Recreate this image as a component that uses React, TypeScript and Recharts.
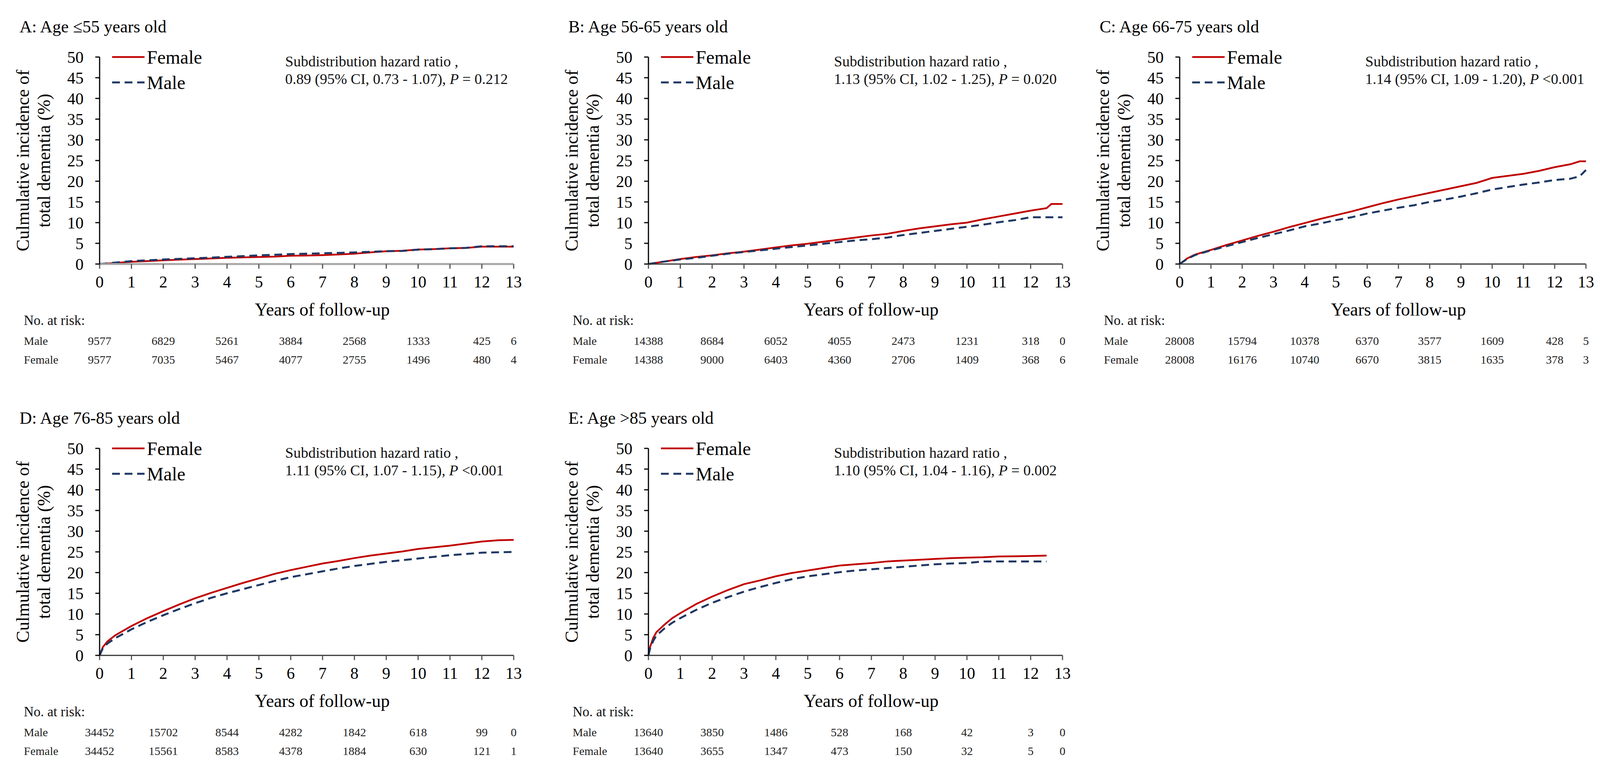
import { LineChart, Line, XAxis, YAxis } from 'recharts';

const YEARS = [0, 1, 2, 3, 4, 5, 6, 7, 8, 9, 10, 11, 12, 13];
const Y_TICKS = [0, 5, 10, 15, 20, 25, 30, 35, 40, 45, 50];
const RISK_YEARS = [0, 2, 4, 6, 8, 10, 12, 13];

// Panel A: age <=55
const aTime = [0, 0.5, 1, 1.5, 2, 2.5, 3, 3.5, 4, 4.5, 5, 5.5, 6, 6.5, 7, 7.5, 8, 8.5, 9, 9.5, 10, 10.5, 11, 11.5, 12, 12.5, 13];
const aFemale = [0, 0.25, 0.55, 0.7, 0.9, 1.05, 1.2, 1.35, 1.5, 1.6, 1.7, 1.8, 2.0, 2.05, 2.15, 2.3, 2.5, 2.8, 3.1, 3.2, 3.5, 3.6, 3.8, 3.9, 4.2, 4.2, 4.2];
const aMale = [0, 0.35, 0.7, 0.9, 1.1, 1.25, 1.4, 1.55, 1.75, 1.9, 2.1, 2.25, 2.4, 2.5, 2.6, 2.7, 2.8, 2.95, 3.1, 3.15, 3.5, 3.6, 3.8, 3.9, 4.3, 4.3, 4.3];
const aRiskMale = ['9577', '6829', '5261', '3884', '2568', '1333', '425', '6'];
const aRiskFemale = ['9577', '7035', '5467', '4077', '2755', '1496', '480', '4'];

// Panel B: age 56-65
const bTime = [0, 0.5, 1, 1.5, 2, 2.5, 3, 3.5, 4, 4.5, 5, 5.5, 6, 6.5, 7, 7.5, 8, 8.5, 9, 9.5, 10, 10.5, 11, 11.5, 12, 12.5, 12.65, 13];
const bFemale = [0, 0.6, 1.2, 1.7, 2.1, 2.6, 3.0, 3.5, 4.0, 4.5, 4.9, 5.4, 5.9, 6.4, 6.9, 7.3, 8.0, 8.6, 9.1, 9.6, 10.0, 10.8, 11.5, 12.2, 12.9, 13.5, 14.5, 14.5];
const bMale = [0, 0.6, 1.1, 1.5, 2.0, 2.5, 2.9, 3.3, 3.7, 4.1, 4.5, 4.9, 5.3, 5.7, 6.0, 6.4, 7.0, 7.5, 8.0, 8.5, 9.0, 9.5, 10.1, 10.6, 11.3, 11.3, 11.3, 11.3];
const bRiskMale = ['14388', '8684', '6052', '4055', '2473', '1231', '318', '0'];
const bRiskFemale = ['14388', '9000', '6403', '4360', '2706', '1409', '368', '6'];

// Panel C: age 66-75
const cTime = [0, 0.25, 0.5, 1, 1.5, 2, 2.5, 3, 3.5, 4, 4.5, 5, 5.5, 6, 6.5, 7, 7.5, 8, 8.5, 9, 9.5, 10, 10.5, 11, 11.5, 12, 12.5, 12.8, 13];
const cFemale = [0, 1.4, 2.3, 3.4, 4.6, 5.7, 6.8, 7.8, 8.9, 9.9, 10.9, 11.8, 12.7, 13.7, 14.7, 15.6, 16.4, 17.2, 18.0, 18.8, 19.6, 20.8, 21.3, 21.8, 22.5, 23.4, 24.1, 24.8, 24.8];
const cMale = [0, 1.3, 2.2, 3.3, 4.3, 5.3, 6.3, 7.2, 8.1, 9.1, 9.8, 10.6, 11.3, 12.2, 12.9, 13.6, 14.2, 15.0, 15.6, 16.3, 17.1, 18.0, 18.6, 19.2, 19.7, 20.3, 20.6, 21.2, 22.7];
const cRiskMale = ['28008', '15794', '10378', '6370', '3577', '1609', '428', '5'];
const cRiskFemale = ['28008', '16176', '10740', '6670', '3815', '1635', '378', '3'];

// Panel D: age 76-85
const dTime = [0, 0.1, 0.25, 0.5, 1, 1.5, 2, 2.5, 3, 3.5, 4, 4.5, 5, 5.5, 6, 6.5, 7, 7.5, 8, 8.5, 9, 9.5, 10, 10.5, 11, 11.5, 12, 12.5, 13];
const dFemale = [0, 2.0, 3.4, 4.9, 7.1, 9.0, 10.7, 12.3, 13.8, 15.1, 16.3, 17.5, 18.6, 19.7, 20.6, 21.4, 22.2, 22.8, 23.5, 24.1, 24.6, 25.1, 25.7, 26.1, 26.5, 27.0, 27.5, 27.8, 27.9];
const dMale = [0, 1.7, 2.9, 4.2, 6.3, 8.1, 9.7, 11.2, 12.6, 13.9, 15.0, 16.0, 17.0, 18.0, 18.9, 19.6, 20.3, 21.0, 21.6, 22.1, 22.6, 23.0, 23.4, 23.8, 24.2, 24.5, 24.8, 24.9, 25.0];
const dRiskMale = ['34452', '15702', '8544', '4282', '1842', '618', '99', '0'];
const dRiskFemale = ['34452', '15561', '8583', '4378', '1884', '630', '121', '1'];

// Panel E: age >85
const eTime = [0, 0.05, 0.15, 0.25, 0.5, 0.75, 1, 1.5, 2, 2.5, 3, 3.5, 4, 4.5, 5, 5.5, 6, 6.5, 7, 7.5, 8, 8.5, 9, 9.5, 10, 10.5, 11, 11.5, 12, 12.5];
const eFemale = [0, 2.0, 4.2, 5.6, 7.4, 9.0, 10.2, 12.4, 14.2, 15.8, 17.2, 18.1, 19.1, 19.9, 20.5, 21.1, 21.7, 22.0, 22.3, 22.7, 22.9, 23.1, 23.3, 23.5, 23.6, 23.7, 23.9, 23.95, 24.0, 24.1];
const eMale = [0, 1.6, 3.5, 4.8, 6.5, 7.9, 9.0, 11.0, 12.7, 14.1, 15.4, 16.5, 17.5, 18.4, 19.1, 19.6, 20.1, 20.5, 20.8, 21.1, 21.4, 21.7, 22.0, 22.2, 22.3, 22.7, 22.7, 22.7, 22.7, 22.7];
const eRiskMale = ['13640', '3850', '1486', '528', '168', '42', '3', '0'];
const eRiskFemale = ['13640', '3655', '1347', '473', '150', '32', '5', '0'];

const FONT = '"Liberation Serif", "Times New Roman", serif';
const RED = '#C00000';
const NAVY = '#1F3864';

// panel geometry (local coordinates)
const PW = 1380;
const PH = 970;
const PLOT_L = 255;
const PLOT_T = 146;
const PLOT_B = 676;
const X_AXIS_H = 60;

interface PanelProps {
  left: number;
  top: number;
  plotR: number;
  title: string;
  hr: string;
  pText: string;
  time: number[];
  female: number[];
  male: number[];
  riskMale: string[];
  riskFemale: string[];
  xAxisColor: string;
  xAxisWidth: number;
}

function Panel(props: PanelProps) {
  const { left, top, plotR, title, hr, pText, time, female, male, riskMale, riskFemale, xAxisColor, xAxisWidth } = props;
  const data = time.map((t, i) => ({ t, female: female[i], male: male[i] }));
  const tickFont = { fontSize: 42, fill: '#000', fontFamily: FONT };
  const xPos = (t: number) => PLOT_L + (t / 13) * (plotR - PLOT_L);
  const midX = (PLOT_L + plotR) / 2 + 40;

  return (
    <div style={{ position: 'absolute', left, top, width: PW, height: PH }}>
      <LineChart
        width={PW}
        height={PH}
        data={data}
        margin={{ top: PLOT_T, right: PW - plotR, bottom: PH - PLOT_B - X_AXIS_H, left: PLOT_L - 100 }}
      >
        <XAxis
          type="number"
          dataKey="t"
          domain={[0, 13]}
          ticks={YEARS}
          interval={0}
          height={X_AXIS_H}
          tick={tickFont}
          tickSize={12}
          tickMargin={18}
          axisLine={{ stroke: xAxisColor, strokeWidth: xAxisWidth }}
          tickLine={{ stroke: '#555', strokeWidth: 3 }}
        />
        <YAxis
          type="number"
          domain={[0, 50]}
          ticks={Y_TICKS}
          interval={0}
          width={100}
          tick={tickFont}
          tickSize={11}
          tickMargin={30}
          axisLine={{ stroke: '#000', strokeWidth: 3 }}
          tickLine={{ stroke: '#000', strokeWidth: 3 }}
        />
        <Line
          type="linear"
          dataKey="female"
          stroke={RED}
          strokeWidth={4.5}
          dot={false}
          isAnimationActive={false}
        />
        <Line
          type="linear"
          dataKey="male"
          stroke={NAVY}
          strokeWidth={5}
          strokeDasharray="20 12"
          dot={false}
          isAnimationActive={false}
        />
      </LineChart>

      <svg
        width={PW}
        height={PH}
        style={{ position: 'absolute', left: 0, top: 0, pointerEvents: 'none' }}
        fontFamily={FONT}
      >
        <text x={50} y={83} fontSize={44} fill="#000">{title}</text>

        <g transform="translate(58 411) rotate(-90)">
          <text x={0} y={0} fontSize={46} textAnchor="middle" dominantBaseline="central" fill="#000">
            Culmulative incidence of
          </text>
        </g>
        <g transform="translate(112 411) rotate(-90)">
          <text x={0} y={0} fontSize={46} textAnchor="middle" dominantBaseline="central" fill="#000">
            total dementia (%)
          </text>
        </g>

        {/* legend */}
        <line x1={287} x2={370} y1={146} y2={146} stroke={RED} strokeWidth={4.5} />
        <text x={376} y={146} fontSize={48} dominantBaseline="central" fill="#000">Female</text>
        <line x1={287} x2={370} y1={211} y2={211} stroke={NAVY} strokeWidth={5} strokeDasharray="20 12" />
        <text x={376} y={211} fontSize={48} dominantBaseline="central" fill="#000">Male</text>

        <text x={730} y={157} fontSize={38} dominantBaseline="central" fill="#111">Subdistribution hazard ratio ,</text>
        <text x={730} y={202} fontSize={38} dominantBaseline="central" fill="#111">
          {hr}<tspan fontStyle="italic">P</tspan>{pText}
        </text>

        <text x={midX} y={792} fontSize={46} textAnchor="middle" dominantBaseline="central" fill="#000">
          Years of follow-up
        </text>

        <text x={61} y={820} fontSize={35} dominantBaseline="central" fill="#111">No. at risk:</text>
        <text x={61} y={872} fontSize={30} dominantBaseline="central" fill="#222">Male</text>
        <text x={61} y={920} fontSize={30} dominantBaseline="central" fill="#222">Female</text>
        {RISK_YEARS.map((t, i) => (
          <g key={t}>
            <text x={xPos(t)} y={872} fontSize={30} textAnchor="middle" dominantBaseline="central" fill="#222">
              {riskMale[i]}
            </text>
            <text x={xPos(t)} y={920} fontSize={30} textAnchor="middle" dominantBaseline="central" fill="#222">
              {riskFemale[i]}
            </text>
          </g>
        ))}
      </svg>
    </div>
  );
}

export default function App() {
  return (
    <div style={{ position: 'absolute', left: 0, top: 0, width: 4184, height: 1974, background: '#fff', overflow: 'hidden' }}>
      <Panel
        left={0} top={0} plotR={1315}
        title="A: Age ≤55 years old"
        hr="0.89 (95% CI, 0.73 - 1.07), " pText=" = 0.212"
        time={aTime} female={aFemale} male={aMale}
        riskMale={aRiskMale} riskFemale={aRiskFemale}
        xAxisColor="#a6a6a6" xAxisWidth={5}
      />
      <Panel
        left={1405} top={0} plotR={1315}
        title="B: Age 56-65 years old"
        hr="1.13 (95% CI, 1.02 - 1.25), " pText=" = 0.020"
        time={bTime} female={bFemale} male={bMale}
        riskMale={bRiskMale} riskFemale={bRiskFemale}
        xAxisColor="#333" xAxisWidth={3}
      />
      <Panel
        left={2765} top={0} plotR={1295}
        title="C: Age 66-75 years old"
        hr="1.14 (95% CI, 1.09 - 1.20), " pText=" <0.001"
        time={cTime} female={cFemale} male={cMale}
        riskMale={cRiskMale} riskFemale={cRiskFemale}
        xAxisColor="#333" xAxisWidth={3}
      />
      <Panel
        left={0} top={1002} plotR={1315}
        title="D: Age 76-85 years old"
        hr="1.11 (95% CI, 1.07 - 1.15), " pText=" <0.001"
        time={dTime} female={dFemale} male={dMale}
        riskMale={dRiskMale} riskFemale={dRiskFemale}
        xAxisColor="#333" xAxisWidth={3}
      />
      <Panel
        left={1405} top={1002} plotR={1315}
        title="E: Age >85 years old"
        hr="1.10 (95% CI, 1.04 - 1.16), " pText=" = 0.002"
        time={eTime} female={eFemale} male={eMale}
        riskMale={eRiskMale} riskFemale={eRiskFemale}
        xAxisColor="#333" xAxisWidth={3}
      />
    </div>
  );
}
